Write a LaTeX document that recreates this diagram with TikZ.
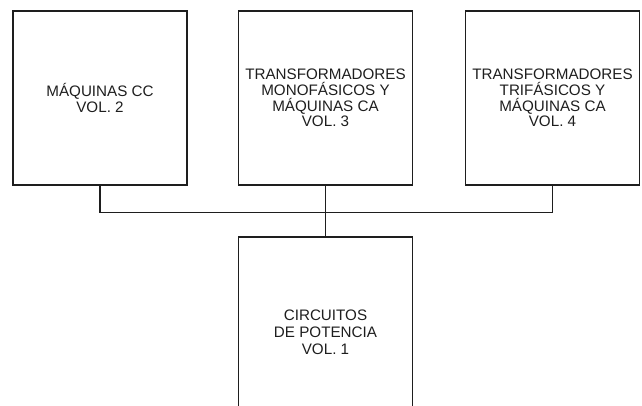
\documentclass[tikz,border=0pt]{standalone}
\usepackage{fontspec}
\setmainfont{Liberation Sans}
\definecolor{ink}{HTML}{1E1E1E}
\begin{document}
\begin{tikzpicture}[x=1pt,y=-1pt,
  volbox/.style={draw=ink,line width=1.1pt,minimum width=174pt,minimum height=174pt,
    inner sep=0pt,align=center,text=ink,font=\fontsize{15.2}{15.6}\selectfont},
  link/.style={draw=ink,line width=1.1pt}]
\clip (0,0) rectangle (642,405);
\node[volbox] (L) at (100,98) {MÁQUINAS CC\\VOL. 2};
\node[volbox] (M) at (325.5,98) {TRANSFORMADORES\\MONOFÁSICOS Y\\MÁQUINAS CA\\VOL. 3};
\node[volbox] (R) at (552.5,98) {TRANSFORMADORES\\TRIFÁSICOS Y\\MÁQUINAS CA\\VOL. 4};
\node[volbox,minimum height=190pt,font=\fontsize{15.2}{17}\selectfont] (B) at (325.5,332) {CIRCUITOS\\DE POTENCIA\\VOL. 1};
\draw[link] (L.south) -- ++(0,27) -| (R.south);
\draw[link] (M.south) -- (B.north);
\end{tikzpicture}
\end{document}
